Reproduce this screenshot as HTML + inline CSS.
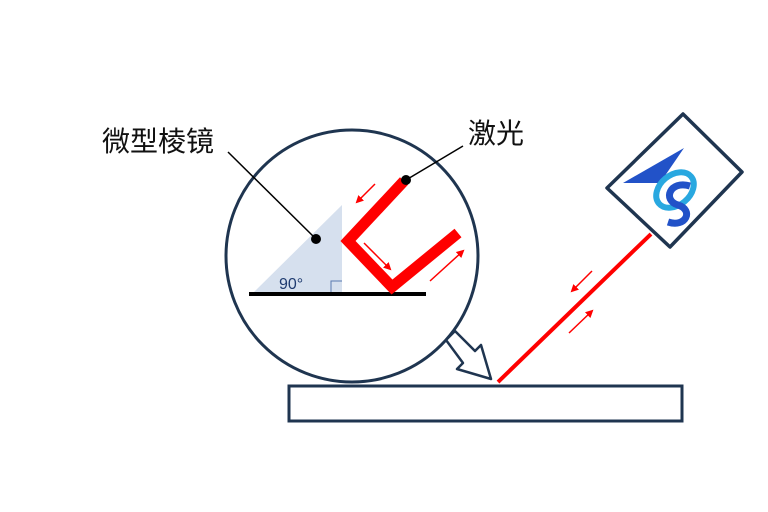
<!DOCTYPE html>
<html><head><meta charset="utf-8"><style>
html,body{margin:0;padding:0;background:#fff;}
svg{display:block;}
text{font-family:"Liberation Sans","Noto Sans CJK SC",sans-serif;}
</style></head><body>
<svg width="768" height="512" viewBox="0 0 768 512" xmlns="http://www.w3.org/2000/svg">
<defs>
<marker id="ah" markerWidth="8" markerHeight="8" refX="6" refY="4" orient="auto" markerUnits="userSpaceOnUse"><path d="M0,0 L8,4 L0,8 Z" fill="#f00"/></marker>
</defs>
<text x="102" y="151" font-size="28" fill="#111">微型棱镜</text>
<text x="468" y="143" font-size="28" fill="#111">激光</text>
<circle cx="352" cy="256" r="126" fill="#fff" stroke="#1f3550" stroke-width="3"/>
<polygon points="342,205 254,292 342,292" fill="#d6e0ee"/>
<path d="M331,292 V281 H342" fill="none" stroke="#5a7ab0" stroke-width="1"/>
<text x="279" y="289" font-size="16" fill="#1f3b70">90°</text>
<line x1="249" y1="294" x2="426" y2="294" stroke="#000" stroke-width="4"/>
<polyline points="404,181 348,241 392,287 458,233" fill="none" stroke="#f00" stroke-width="11" stroke-linejoin="miter"/>
<line x1="375" y1="184" x2="357" y2="202" stroke="#f00" stroke-width="1.5" marker-end="url(#ah)"/>
<line x1="364" y1="243" x2="390" y2="269" stroke="#f00" stroke-width="1.5" marker-end="url(#ah)"/>
<line x1="430" y1="281" x2="463" y2="251" stroke="#f00" stroke-width="1.5" marker-end="url(#ah)"/>
<line x1="228" y1="152" x2="316" y2="239" stroke="#000" stroke-width="1.5"/>
<circle cx="316" cy="239" r="5" fill="#000"/>
<line x1="406" y1="180" x2="463" y2="146" stroke="#000" stroke-width="1.5"/>
<circle cx="406" cy="180" r="5" fill="#000"/>
<polygon points="446,340 455,331 475,351 481,345 491,379 457,369 463,363" fill="#fff" stroke="#1f3550" stroke-width="2.5" stroke-linejoin="round"/>
<rect x="289" y="386" width="393" height="35" fill="#fff" stroke="#1f3550" stroke-width="3"/>
<line x1="498" y1="382" x2="651" y2="234" stroke="#f00" stroke-width="4"/>
<line x1="592" y1="271" x2="572" y2="291" stroke="#f00" stroke-width="1.5" marker-end="url(#ah)"/>
<line x1="569" y1="333" x2="592" y2="311" stroke="#f00" stroke-width="1.5" marker-end="url(#ah)"/>
<polygon points="683,114 742,172 670,247 607,188" fill="#fff" stroke="#1f3550" stroke-width="3.5" stroke-linejoin="round"/>
<polygon points="623,183 684,148 660,183 650,183" fill="#2252c8"/>
<ellipse cx="675" cy="190" rx="21" ry="15" fill="none" stroke="#29a8e0" stroke-width="6" transform="rotate(-40 675 190)"/>
<path d="M690,186 C670,180 662,200 678,205 C694,210 686,228 668,222" fill="none" stroke="#2252c8" stroke-width="7"/>
</svg>
</body></html>
